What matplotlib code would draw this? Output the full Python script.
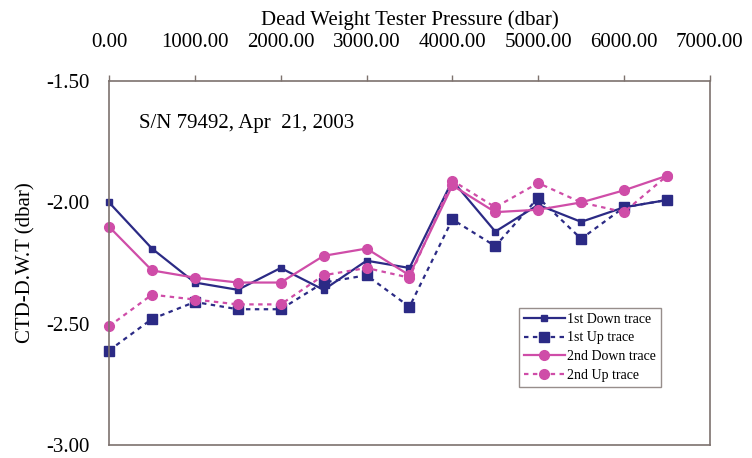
import numpy as np
import matplotlib.pyplot as plt

plt.rcParams['font.family'] = ['Liberation Serif', 'DejaVu Serif']

# pressure steps of the dead weight tester (dbar)
pressure = [0, 500, 1000, 1500, 2000, 2500, 3000, 3500, 4000, 4500, 5000, 5500, 6000, 6500]

down1 = [-2.00, -2.19, -2.33, -2.36, -2.27, -2.36, -2.24, -2.27, -1.91, -2.12, -2.01, -2.08, -2.02, -1.99]
up1 = [-2.61, -2.48, -2.41, -2.44, -2.44, -2.33, -2.30, -2.43, -2.07, -2.18, -1.98, -2.15, -2.02, -1.99]
down2 = [-2.10, -2.28, -2.31, -2.33, -2.33, -2.22, -2.19, -2.30, -1.93, -2.04, -2.03, -2.00, -1.95, -1.89]
up2 = [-2.51, -2.38, -2.40, -2.42, -2.42, -2.30, -2.27, -2.31, -1.91, -2.02, -1.92, -2.00, -2.04, -1.89]

x_ticks = np.arange(0, 7001, 1000)
y_ticks = [-3.0, -2.5, -2.0, -1.5]

navy = '#2b2a85'
pink = '#cf4da8'
spine = '#7d726e'

fig = plt.figure(figsize=(7.52, 4.58), dpi=100)
ax = fig.add_axes([0.145, 0.028, 0.799, 0.795])

ax.plot(pressure, down1, color=navy, lw=1.6, marker='s', ms=5, label='1st Down trace', clip_on=False)
ax.plot(pressure, up1, color=navy, lw=1.6, ls=(0, (2, 2)), marker='s', ms=7, label='1st Up trace', clip_on=False)
ax.plot(pressure, down2, color=pink, lw=1.6, marker='o', ms=7, label='2nd Down trace', clip_on=False)
ax.plot(pressure, up2, color=pink, lw=1.6, ls=(0, (2, 2)), marker='o', ms=7, label='2nd Up trace', clip_on=False)

ax.set_xlim(0, 7000)
ax.set_ylim(-3.0, -1.5)
ax.set_xticks(x_ticks)
ax.set_xticklabels(['%.2f' % v for v in x_ticks])
ax.set_yticks(y_ticks)
ax.set_yticklabels(['%.2f' % v for v in y_ticks])
ax.xaxis.tick_top()
ax.xaxis.set_label_position('top')
ax.tick_params(axis='x', direction='out', length=4, width=1, color=spine,
               labelsize=15, pad=17)
ax.tick_params(axis='y', length=0, labelsize=15, pad=14)
for s in ax.spines.values():
    s.set_color(spine)
    s.set_linewidth(1.2)

ax.set_xlabel('Dead Weight Tester Pressure (dbar)', fontsize=15, labelpad=6)
ax.set_ylabel('CTD-D.W.T (dbar)', fontsize=15, labelpad=8)
ax.text(0.05, 0.87, 'S/N 79492, Apr  21, 2003', transform=ax.transAxes, fontsize=15)

leg = ax.legend(loc='lower left', bbox_to_anchor=(0.683, 0.16), fontsize=10,
                frameon=True, fancybox=False, handlelength=2.9, handletextpad=0.2,
                borderpad=0.35, labelspacing=0.42, borderaxespad=0)
leg.get_frame().set_edgecolor(spine)
leg.get_frame().set_linewidth(1)

fig.savefig('out.png', dpi=100)
